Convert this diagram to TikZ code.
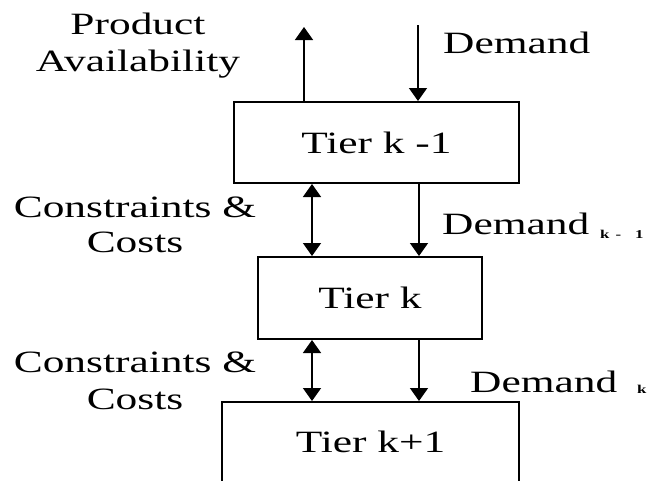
\documentclass[tikz,border=0pt]{standalone}
\usepackage{fontspec}
\setmainfont{Liberation Serif}[FakeStretch=1.4]
\usetikzlibrary{arrows.meta}

\newcommand\mainsize{\fontsize{31}{37}\selectfont}
\newcommand\subsz{\fontsize{12}{12}\selectfont\bfseries}

\begin{document}
\begin{tikzpicture}[x=1pt,y=-1pt,
  tier/.style={draw, line width=2pt, inner sep=0pt, font=\mainsize},
  tipshape/.tip={Triangle[length=13pt,width=18pt]},
  flow/.style={line width=1.6pt, -tipshape},
  both/.style={line width=1.6pt, tipshape-tipshape},
  lbl/.style={inner sep=0pt, font=\mainsize, align=center}]

\useasboundingbox (0,0) rectangle (650,480);
\clip (0,0) rectangle (650,480);

% the three tiers
\node[tier, minimum width=285pt, minimum height=81pt] (t1) at (376.5,142.5) {Tier k -1};
\node[tier, minimum width=224pt, minimum height=82pt] (t2) at (370,298) {Tier k};
\node[tier, minimum width=297pt, minimum height=80pt] (t3) at (370.5,442) {Tier k+1};

% free ends and vertical lanes of the connectors
\coordinate (paTop) at (304,27);
\coordinate (dTop) at (418,25);
\coordinate (cx) at (312,0);
\coordinate (dx) at (419,0);

\draw[flow] (paTop |- t1.north) -- (paTop);
\draw[flow] (dTop) -- (dTop |- t1.north);
\draw[both] (cx |- t1.south) -- (cx |- t2.north);
\draw[flow] (dx |- t1.south) -- (dx |- t2.north);
\draw[both] (cx |- t2.south) -- (cx |- t3.north);
\draw[flow] (dx |- t2.south) -- (dx |- t3.north);

% labels (base anchor of a two-line label sits on its last line)
\node[lbl, anchor=base] (pa) at (138,71) {Product\\Availability};
\node[lbl, anchor=base west] (d0) at (443,53) {Demand};
\node[lbl, anchor=base] (cc1) at (135,252) {Constraints \&\\[-2pt]Costs};
\node[lbl, anchor=base] (cc2) at (135,409) {Constraints \&\\Costs};
\node[lbl, anchor=base west] (d1) at (442,234)
  {Demand\hspace{11pt}\raisebox{-4pt}{\subsz k\hspace{6pt}-\hspace{14pt}1}};
\node[lbl, anchor=base west] (d2) at (470,392)
  {Demand\hspace{20pt}\raisebox{-1pt}{\subsz k}};
\end{tikzpicture}
\end{document}
